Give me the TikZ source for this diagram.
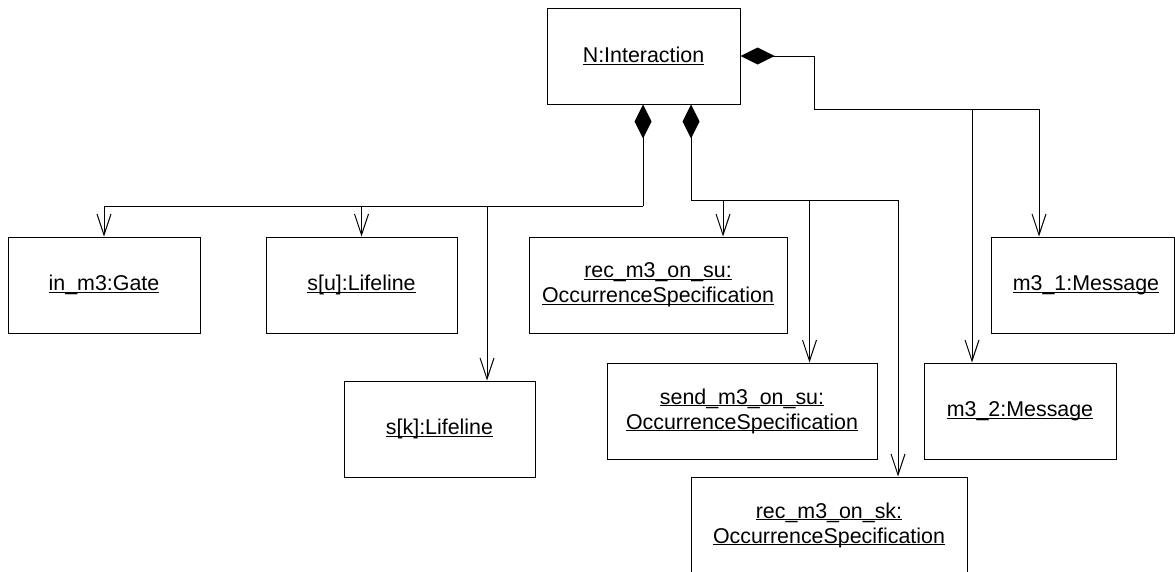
\documentclass[tikz,border=0pt]{standalone}
\usepackage{fontspec}
\setmainfont{Liberation Sans}
\usetikzlibrary{arrows.meta}
\newsavebox\ulbox
\newcommand\myul[1]{\sbox\ulbox{#1}\rlap{\rule[-2.4pt]{\wd\ulbox}{1.1pt}}\usebox\ulbox}
\tikzset{
  obj/.style={draw, line width=1pt, inner sep=0pt, minimum height=96pt, align=center,
    font=\fontsize{21.4pt}{25pt}\selectfont},
  comp/.style={line width=1pt, {Diamond[length=34pt,width=17pt]}-},
  arr/.style={line width=1pt, -{Straight Barb[length=21pt,width=14pt]}}
}
\begin{document}
\begin{tikzpicture}[x=1pt,y=-1pt]
\useasboundingbox (0,0) rectangle (1175,571);
\node[obj, minimum width=193pt] (N) at (643.5,56) {\myul{N:Interaction}};
\node[obj, minimum width=192pt] (in) at (104,285) {\myul{in\_m3:Gate}};
\node[obj, minimum width=191pt] (su) at (361.5,285) {\myul{s[u]:Lifeline}};
\node[obj, minimum width=191pt] (sk) at (439.5,429) {\myul{s[k]:Lifeline}};
\node[obj, minimum width=258pt] (rsu) at (658,285) {\myul{rec\_m3\_on\_su:}\\\myul{OccurrenceSpecification}};
\node[obj, minimum width=270pt] (ssu) at (742,411) {\myul{send\_m3\_on\_su:}\\\myul{OccurrenceSpecification}};
\node[obj, minimum width=276pt] (rsk) at (829,525) {\myul{rec\_m3\_on\_sk:}\\\myul{OccurrenceSpecification}};
\node[obj, minimum width=183pt] (m31) at (1082.5,285) {\hspace*{7pt}\myul{m3\_1:Message}};
\node[obj, minimum width=192pt] (m32) at (1020,411) {\myul{m3\_2:Message}};

\coordinate (j1) at (643,206);
\coordinate (j2) at (691,200);
\coordinate (j3) at (814,109);

\draw[comp] (N.south -| j1) -- (j1);
\draw[arr] (j1) -| (in.north);
\draw[arr] (j1) -| (su.north);
\draw[arr] (j1) -| ([xshift=47.5pt]sk.north);

\draw[comp] (N.south -| j2) -- (j2);
\draw[arr] (j2) -| ([xshift=65pt]rsu.north);
\draw[arr] (j2) -| ([xshift=67.5pt]ssu.north);
\draw[arr] (j2) -| ([xshift=69pt]rsk.north);

\draw[comp] (N.east) -| (j3);
\draw[arr] (j3) -| ([xshift=-48pt]m32.north);
\draw[arr] (j3) -| ([xshift=-43.5pt]m31.north);
\end{tikzpicture}
\end{document}
